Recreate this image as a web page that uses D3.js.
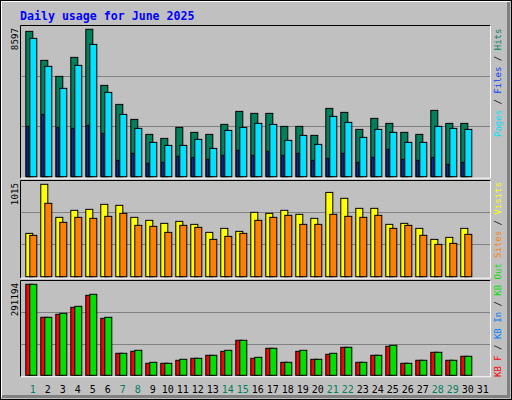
<!DOCTYPE html>
<meta charset="utf-8">
<script src="https://d3js.org/d3.v7.min.js"></script>
<style>body{margin:0;background:#fff} text{font-family:"DejaVu Sans Mono",monospace}</style>
<body>
<script>
// data
var days = d3.range(1, 32);
var weekend = [1, 7, 8, 14, 15, 21, 22, 28, 29];
var hits  = [8476,6785,5851,6960,8597,5327,4218,3344,2469,2236,2877,2586,2469,3052,3810,3694,3694,2935,2935,2411,3985,3752,2760,3402,3110,2586,2469,3869,3110,3110];
var files = [8068,6435,5152,6493,7718,4918,3635,2819,2002,1827,1827,2177,1652,2702,2877,3110,3052,2119,2411,1886,3519,3169,2294,2760,2586,2002,2002,2935,2819,2760];
var pages = [2935,3635,2877,2819,2994,2527,953,1361,778,836,1186,1128,1011,1244,1536,1244,1477,1244,1361,953,1069,1361,836,1128,1594,1011,953,1128,719,836];
var visits = [476,1015,652,729,740,795,784,652,619,586,608,575,487,531,498,707,696,729,685,641,926,861,751,751,575,586,531,410,432,531];
var sites  = [454,806,597,652,641,663,696,564,553,487,564,542,410,443,476,619,652,674,575,575,685,663,652,674,531,564,454,355,366,465];
var kbF   = [291194,185588,195188,217586,255984,182389,70396,76795,38398,38398,47997,54397,63996,76795,111993,54397,86395,41597,76795,51197,67196,89594,41597,63996,92794,38398,47997,73595,47997,60796];
var kbOut = [291194,185588,198388,220786,259184,185588,70396,79995,41597,38398,51197,54397,63996,79995,111993,57596,86395,41597,79995,51197,70396,89594,41597,63996,95994,38398,47997,73595,47997,60796];

var W = 512, H = 400;
var svg = d3.select("body").append("svg").attr("width", W).attr("height", H);

// frame
svg.append("rect").attr("width", W).attr("height", H).attr("fill", "#c0c0c0");
svg.append("rect").attr("x", 0.5).attr("y", 0.5).attr("width", W - 1).attr("height", H - 1).attr("fill", "none").attr("stroke", "#000");
svg.append("path").attr("d", "M1.5,397V1.5H510").attr("fill", "none").attr("stroke", "#fff");
svg.append("path").attr("d", "M2,396.5H508.5V2").attr("fill", "none").attr("stroke", "#808080").attr("stroke-width", 3);

svg.append("text").attr("x", 20).attr("y", 20).attr("fill", "#0000ff")
  .style("font-size", "11.6px").style("font-weight", "bold").text("Daily usage for June 2025");

var x = d3.scaleBand().domain(days).range([25.3, 490.3]).paddingInner(0);

function panel(top, bottom, maxY) {
  svg.append("path").attr("d", "M20.5," + (bottom + 1.5) + "V" + (top + 0.5) + "H490.5").attr("fill", "none").attr("stroke", "#000");
  svg.append("path").attr("d", "M20.5," + (bottom + 1.5) + "H490.5V" + (top + 0.5)).attr("fill", "none").attr("stroke", "#fff");
  var h = bottom - top;
  [1 / 3, 2 / 3].forEach(function(f) {
    svg.append("line").attr("x1", 21).attr("x2", 490).attr("y1", Math.round(bottom - h * f) + 0.5).attr("y2", Math.round(bottom - h * f) + 0.5)
      .attr("stroke", "#808080");
  });
  svg.append("text").attr("transform", "translate(18," + (top + 3) + ") rotate(-90)").attr("text-anchor", "end")
    .style("font-size", "9.2px").attr("fill", "#000").text(maxY);
}

function bars(vals, y, off, w, color) {
  svg.append("g").selectAll("rect").data(vals).enter().append("rect")
    .attr("x", function(d, i) { return x(i + 1) + off; })
    .attr("y", function(d) { return y(d); })
    .attr("width", w)
    .attr("height", function(d) { return y(0) - y(d); })
    .attr("fill", color).attr("stroke", "#000").attr("stroke-width", 1);
}

// top panel
panel(25, 176.7, d3.max(hits));
var y1 = d3.scaleLinear().domain([0, d3.max(hits)]).range([176.7, 29.3]);
bars(hits, y1, 0.5, 7, "#00805c");
bars(files, y1, 4.5, 7, "#00e0ff");
bars(pages, y1, 1.5, 2, "#0040ff");

// middle panel
panel(180, 276.7, d3.max(visits));
var y2 = d3.scaleLinear().domain([0, d3.max(visits)]).range([276.7, 184.3]);
bars(visits, y2, 0.5, 7, "#ffff00");
bars(sites, y2, 4.5, 7, "#ff8000");

// bottom panel
panel(280, 375.3, d3.max(kbOut));
var y3 = d3.scaleLinear().domain([0, d3.max(kbOut)]).range([375.3, 284.3]);
bars(kbF, y3, 0.5, 7, "#ff0000");
bars(kbOut, y3, 4.5, 7, "#00e000");

// day labels
svg.append("g").selectAll("text").data(days).enter().append("text")
  .attr("x", function(d) { return x(d) + 7.5; }).attr("y", 393)
  .attr("text-anchor", "middle").style("font-size", "10px")
  .attr("fill", function(d) { return weekend.indexOf(d) >= 0 ? "#00805c" : "#000"; })
  .text(function(d) { return d; });

// right legends
function legend(bottomY, parts) {
  var t = svg.append("text").attr("transform", "translate(501," + bottomY + ") rotate(-90)").style("font-size", "9px");
  parts.forEach(function(p, i) {
    if (i) t.append("tspan").attr("fill", "#000").text(" / ");
    t.append("tspan").attr("fill", p[1]).text(p[0]);
  });
}
legend(137, [["Pages", "#00e0ff"], ["Files", "#0040ff"], ["Hits", "#00805c"]]);
legend(258, [["Sites", "#ff8000"], ["Visits", "#ffff00"]]);
legend(377, [["KB F", "#ff0000"], ["KB In", "#0080ff"], ["KB Out", "#00e000"]]);
</script>
</body>
